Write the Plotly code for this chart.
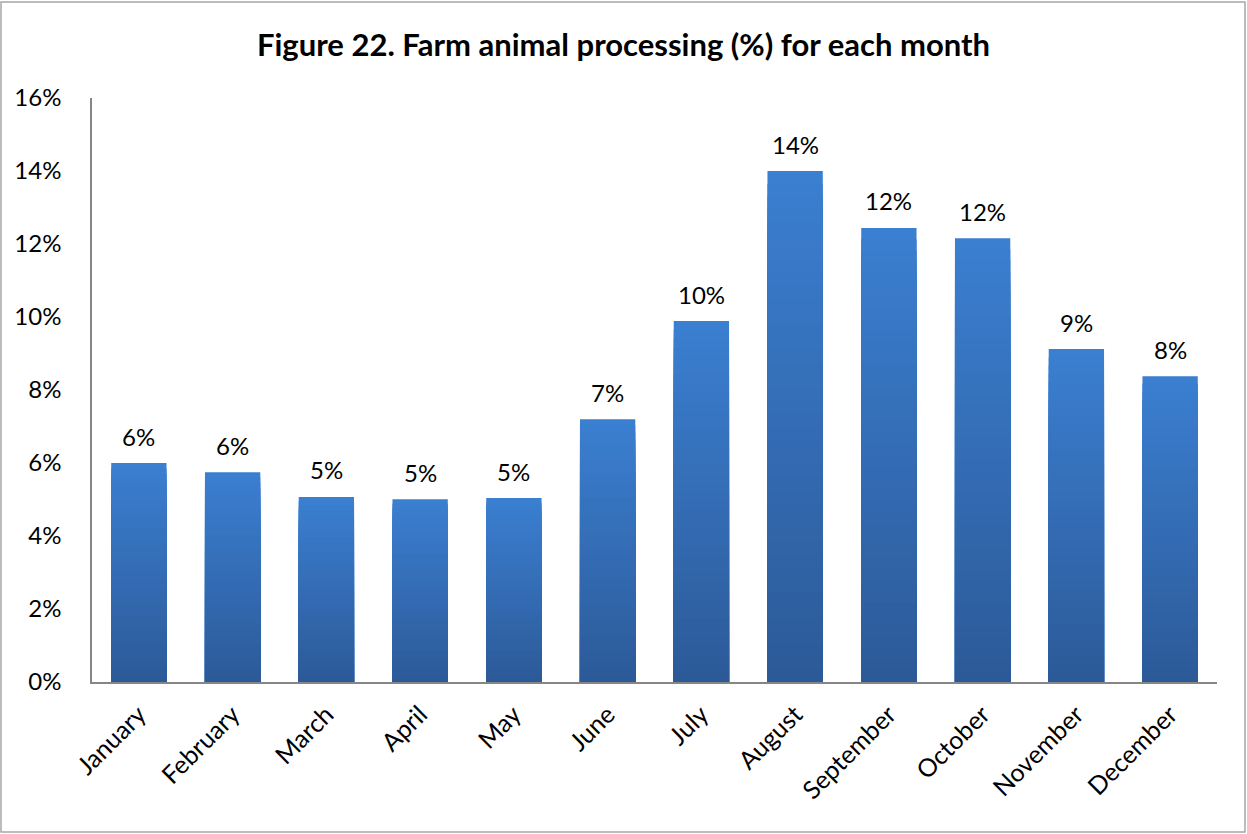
import plotly.graph_objects as go

months = ["January", "February", "March", "April", "May", "June", "July",
          "August", "September", "October", "November", "December"]
values = [6.0, 5.75, 5.07, 5.01, 5.04, 7.2, 9.89, 14.0, 12.44, 12.16, 9.12, 8.38]
labels = ["6%", "6%", "5%", "5%", "5%", "7%", "10%", "14%", "12%", "12%", "9%", "8%"]
y_ticks = [0, 2, 4, 6, 8, 10, 12, 14, 16]
y_tick_text = [f"{t}%" for t in y_ticks]

TOP = (59, 127, 209)
BOT = (44, 90, 152)
N = 40

FONT = "Lato, Open Sans, sans-serif"

fig = go.Figure()
for k in range(N):
    frac = 1 - k / N
    t = (k + 0.5) / N
    col = tuple(round(TOP[i] + (BOT[i] - TOP[i]) * t) for i in range(3))
    fig.add_trace(go.Bar(
        x=months,
        y=[v * frac for v in values],
        marker=dict(color=f"rgb{col}", line=dict(width=0)),
        hoverinfo="skip" if k else "x+y",
        showlegend=False,
    ))

for m, v, lab in zip(months, values, labels):
    fig.add_annotation(x=m, y=v, text=lab, showarrow=False, yanchor="middle",
                       yshift=27, font=dict(size=24, color="black", family=FONT))

fig.update_layout(
    width=1247, height=834,
    barmode="overlay",
    bargap=0.41,
    paper_bgcolor="white", plot_bgcolor="white",
    margin=dict(l=92, r=30, t=98, b=152),
    title=dict(text="<b>Figure 22. Farm animal processing (%) for each month</b>",
               x=0.5, xanchor="center", y=1 - 45/834, yanchor="middle",
               font=dict(size=31, color="black", family=FONT)),
    font=dict(family=FONT, color="black"),
    xaxis=dict(showline=True, linecolor="#868686", linewidth=2, tickangle=-45,
               tickfont=dict(size=25), ticks="", showgrid=False,
               ticklabelstandoff=6),
    yaxis=dict(range=[0, 16], tickvals=y_ticks, ticktext=y_tick_text,
               showline=True, linecolor="#868686", linewidth=1.5, ticks="",
               tickfont=dict(size=24), showgrid=False, zeroline=False,
               ticklabelstandoff=24),
    shapes=[dict(type="rect", xref="paper", yref="paper", x0=-91/1125, x1=1+28/1125,
                 y0=-150/584, y1=1+96/584, line=dict(color="#a6a6a6", width=1.5))],
)

fig.write_html("out.html", config={"displayModeBar": False},
               post_script="document.body.style.margin='0';")
